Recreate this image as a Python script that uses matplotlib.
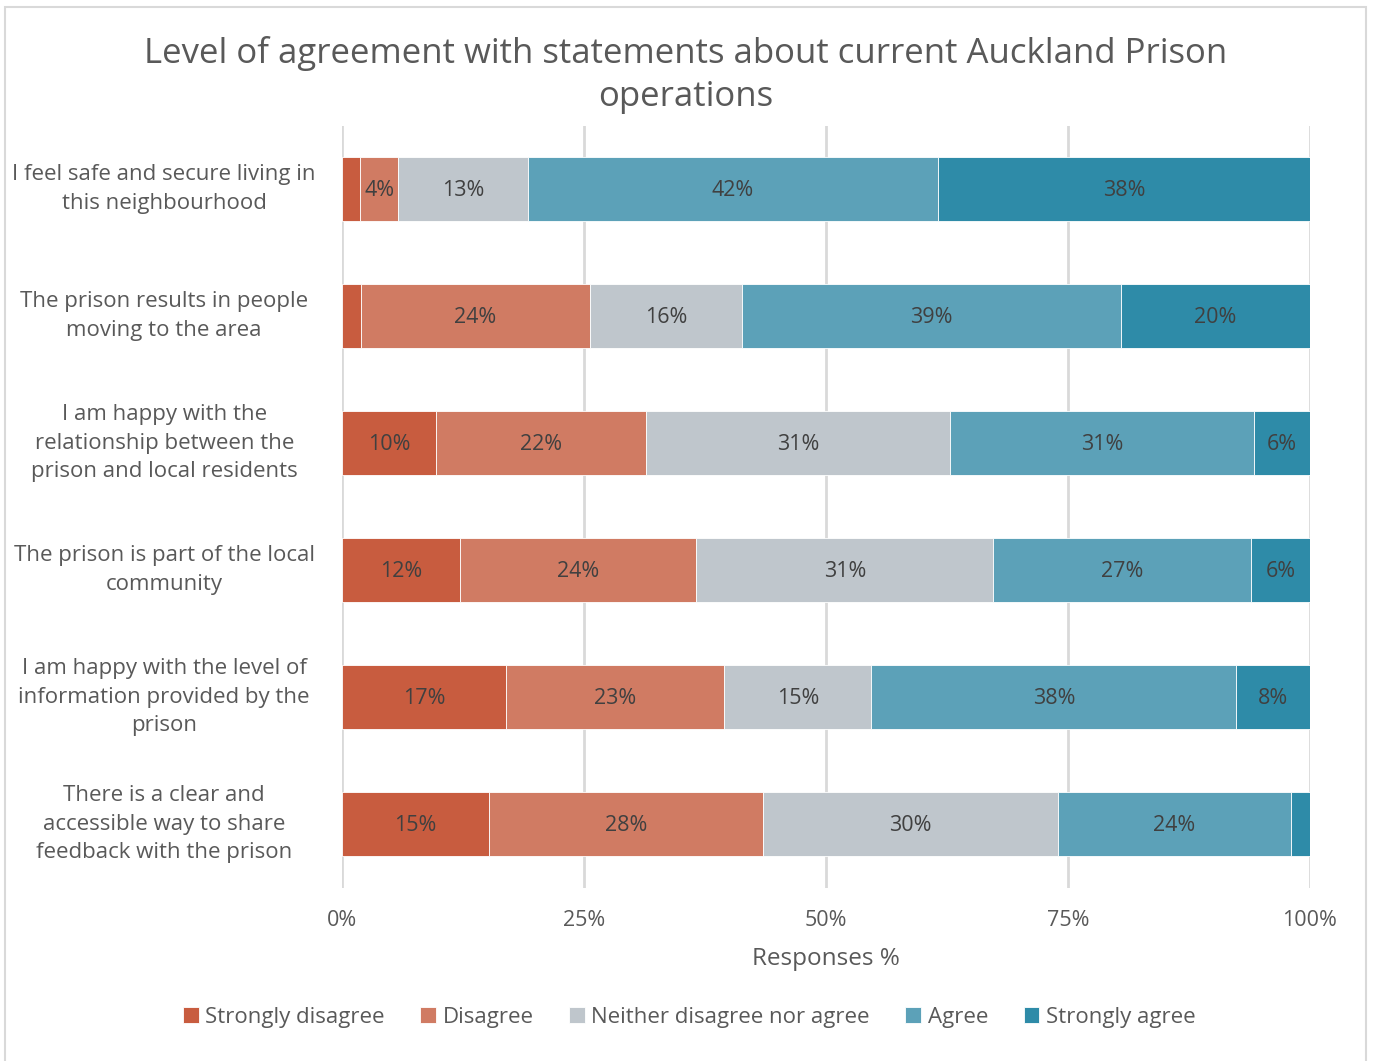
import matplotlib.pyplot as plt
from matplotlib.patches import Rectangle
from matplotlib.ticker import PercentFormatter

plt.rcParams['font.family'] = ['Open Sans', 'DejaVu Sans']

utsagn = [
    "I feel safe and secure living in\nthis neighbourhood",
    "The prison results in people\nmoving to the area",
    "I am happy with the\nrelationship between the\nprison and local residents",
    "The prison is part of the local\ncommunity",
    "I am happy with the level of\ninformation provided by the\nprison",
    "There is a clear and\naccessible way to share\nfeedback with the prison",
]
kategorier = ["Strongly disagree", "Disagree", "Neither disagree nor agree", "Agree", "Strongly agree"]

sterkt_uenig = [1.9, 2.0, 9.7, 12.2, 16.9, 15.2]
uenig = [3.9, 23.6, 21.7, 24.4, 22.6, 28.3]
noytral = [13.4, 15.7, 31.4, 30.7, 15.2, 30.5]
enig = [42.4, 39.2, 31.4, 26.6, 37.7, 24.0]
sterkt_enig = [38.4, 19.5, 5.8, 6.1, 7.6, 2.0]

farger = ["#C85C3F", "#D07B63", "#BFC6CC", "#5CA1B8", "#2E8BA8"]
serier = [sterkt_uenig, uenig, noytral, enig, sterkt_enig]

fig = plt.figure(figsize=(13.73, 10.61), dpi=100)
ax = fig.add_axes([0.2491, 0.1635, 0.705, 0.7182])

# lys ramme rundt hele diagrammet
fig.patches.append(Rectangle((5 / 1373, -0.01), 1361 / 1373, 1 - 7 / 1061 + 0.01,
                             transform=fig.transFigure, fill=False,
                             edgecolor="#D9D9D9", linewidth=1.5))

y = list(range(len(utsagn)))
venstre = [0] * len(utsagn)
for navn, verdier, farge in zip(kategorier, serier, farger):
    ax.barh(y, verdier, left=venstre, height=0.5, color=farge, label=navn,
            edgecolor="white", linewidth=0.6, zorder=3)
    for i, v in enumerate(verdier):
        if v >= 3:
            ax.text(venstre[i] + v / 2, i + 0.015, f"{round(v)}%", ha="center", va="center",
                    fontsize=15.5, color="#404040", zorder=4)
    venstre = [a + b for a, b in zip(venstre, verdier)]

ax.set_ylim(len(utsagn) - 0.5, -0.5)
ax.set_xlim(0, 100)
ax.set_xticks([0, 25, 50, 75, 100])
ax.xaxis.set_major_formatter(PercentFormatter(decimals=0))
ax.set_yticks(y)
ax.set_yticklabels(utsagn, fontsize=16, color="#595959", ha="center", va="center",
                   linespacing=1.45)
ax.tick_params(axis="y", length=0, pad=128)
ax.tick_params(axis="x", length=0, pad=16, labelsize=15.5, labelcolor="#595959")
ax.grid(axis="x", color="#D9D9D9", linewidth=2, zorder=0)
for s in ax.spines.values():
    s.set_visible(False)

ax.set_xlabel("Responses %", fontsize=17.5, color="#595959", labelpad=12)
ax.set_title("Level of agreement with statements about current Auckland Prison\noperations",
             fontsize=25, color="#595959", x=0.355, pad=14, linespacing=1.36)

fig.legend(loc="center", bbox_to_anchor=(0.502, 0.041), ncol=5, frameon=False,
           fontsize=16, labelcolor="#595959", handlelength=0.7, handleheight=0.7,
           handletextpad=0.3, columnspacing=1.6)

fig.savefig("out.png", dpi=100)
